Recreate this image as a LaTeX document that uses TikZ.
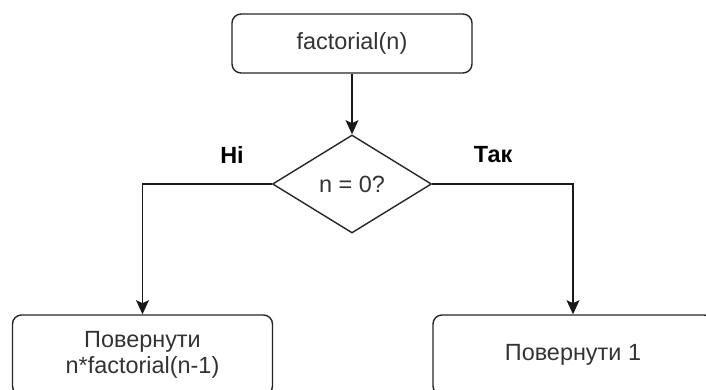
\documentclass[tikz,border=0pt]{standalone}
\usepackage{fontspec}
\setmainfont{Liberation Sans}
\usetikzlibrary{shapes.geometric, arrows.meta, positioning}

\begin{document}
\begin{tikzpicture}
    \tikzstyle{process}  = [rectangle, rounded corners=0.27cm, draw=black!85, line width=1.2pt, text=black!80, align=center, font=\fontsize{20}{22}\selectfont]
    \tikzstyle{decision} = [diamond, aspect=1.62, inner sep=0pt, minimum width=4.77cm, minimum height=2.94cm, draw=black!85, line width=1.2pt, text=black!80, font=\fontsize{20}{22}\selectfont]
    \tikzstyle{answer}   = [font=\bfseries\fontsize{20}{22}\selectfont]
    \tikzstyle{arrow}    = [line width=1.2pt, draw=black!90, -{Stealth[length=12pt, width=11pt, inset=2.5pt]}]

    \useasboundingbox (0,0) rectangle (21.18,-11.7);

    % Start and test
    \node [process, minimum width=7.2cm, minimum height=1.77cm] (start) at (10.56,-1.305) {factorial(n)};
    \node [decision] (test) at (10.56,-5.52) {n = 0?};

    % Both branches
    \node [process, minimum width=7.8cm, minimum height=2.4cm] (recurse) at (4.275,-10.65) {Повернути\\n*factorial(n-1)};
    \node [process, minimum width=8.4cm, minimum height=2.4cm] (base) at (17.19,-10.65) {Повернути 1};

    % Branch labels
    \node [answer] (no)  at (6.96,-4.65)  {Ні};
    \node [answer] (yes) at (14.79,-4.65) {Так};

    % Arrows
    \draw [arrow] (start) -- (test);
    \draw [arrow] (test.west) -| (recurse.north);
    \draw [arrow] (test.east) -| (base.north);

\end{tikzpicture}
\end{document}
